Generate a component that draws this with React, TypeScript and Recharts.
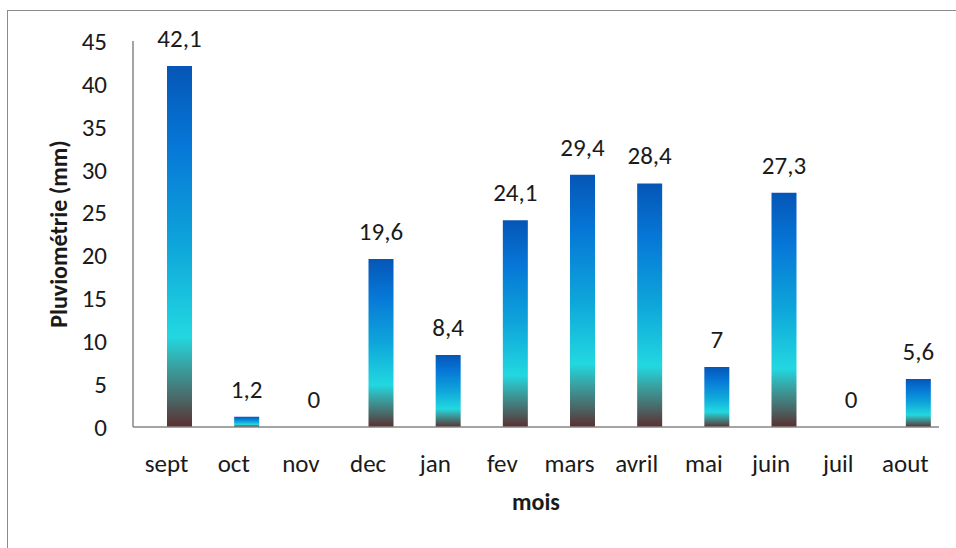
import React from 'react';
import { BarChart, Bar, XAxis, YAxis, LabelList, Label } from 'recharts';

const months = ['sept', 'oct', 'nov', 'dec', 'jan', 'fev', 'mars', 'avril', 'mai', 'juin', 'juil', 'aout'];
const pluvio = [42.1, 1.2, 0, 19.6, 8.4, 24.1, 29.4, 28.4, 7, 27.3, 0, 5.6];
const yTicks = [0, 5, 10, 15, 20, 25, 30, 35, 40, 45];

const data = months.map((m, i) => ({ mois: m, vide: null, pluvio: pluvio[i] }));

const FONT = 'Carlito, Lato, "Noto Sans", sans-serif';
const FS = 25;
const FS_TITLE = 24;
const AXIS = '#868686';
const TXT = '#1a1a1a';

const fmt = (v: any) => String(v).replace('.', ',');

export default function App() {
  return (
    <div style={{ position: 'absolute', left: 0, top: 0, width: 956, height: 548, background: '#fff', overflow: 'hidden' }}>
      <div style={{ position: 'absolute', left: 7, top: 10, width: 960, height: 1, background: '#8c8c8c' }} />
      <div style={{ position: 'absolute', left: 7, top: 10, width: 1, height: 560, background: '#8c8c8c' }} />
      <BarChart
        width={956}
        height={548}
        data={data}
        margin={{ top: 41, right: 17, bottom: 0, left: 0 }}
        barGap={0}
        barSize={25}
        style={{ position: 'absolute', left: 0, top: 0, fontFamily: FONT }}
      >
        <defs>
          <linearGradient id="ocean" x1="0" y1="0" x2="0" y2="1">
            <stop offset="0%" stopColor="#0556B6" />
            <stop offset="22%" stopColor="#0677D7" />
            <stop offset="50%" stopColor="#0EA6DA" />
            <stop offset="75%" stopColor="#22D8E0" />
            <stop offset="84%" stopColor="#3B9C9C" />
            <stop offset="93%" stopColor="#4C6262" />
            <stop offset="100%" stopColor="#5C2E30" />
          </linearGradient>
        </defs>
        <XAxis
          dataKey="mois"
          height={121}
          interval={0}
          tickLine={false}
          tickSize={0}
          tickMargin={27}
          axisLine={{ stroke: AXIS, strokeWidth: 1.5 }}
          tick={{ fill: TXT, fontSize: FS, fontFamily: FONT }}
        >
          <Label
            content={(p: any) => {
              const vb = p.viewBox || { x: 133, y: 427, width: 806, height: 121 };
              return (
                <text
                  x={vb.x + vb.width / 2}
                  y={vb.y + 83}
                  textAnchor="middle"
                  fontFamily={FONT}
                  fontSize={FS_TITLE}
                  fontWeight="bold"
                  fill={TXT}
                >
                  mois
                </text>
              );
            }}
          />
        </XAxis>
        <YAxis
          domain={[0, 45]}
          ticks={yTicks}
          interval={0}
          width={133}
          tickLine={false}
          tickSize={0}
          tickMargin={26}
          axisLine={{ stroke: AXIS, strokeWidth: 1.5 }}
          tick={{ fill: TXT, fontSize: FS, fontFamily: FONT }}
        >
          <Label
            content={(p: any) => {
              const vb = p.viewBox || { x: 0, y: 41, width: 133, height: 386 };
              const cx = vb.x + 67;
              const cy = vb.y + vb.height / 2;
              return (
                <text
                  x={cx}
                  y={cy}
                  transform={`rotate(-90 ${cx} ${cy})`}
                  textAnchor="middle"
                  fontFamily={FONT}
                  fontSize={FS_TITLE}
                  fontWeight="bold"
                  fill={TXT}
                >
                  Pluviométrie (mm)
                </text>
              );
            }}
          />
        </YAxis>
        <Bar dataKey="vide" fill="none" isAnimationActive={false} />
        <Bar dataKey="pluvio" fill="url(#ocean)" minPointSize={0.01} isAnimationActive={false}>
          <LabelList
            dataKey="pluvio"
            position="top"
            offset={19}
            formatter={fmt}
            style={{ fill: TXT, fontSize: FS, fontFamily: FONT }}
          />
        </Bar>
      </BarChart>
    </div>
  );
}
